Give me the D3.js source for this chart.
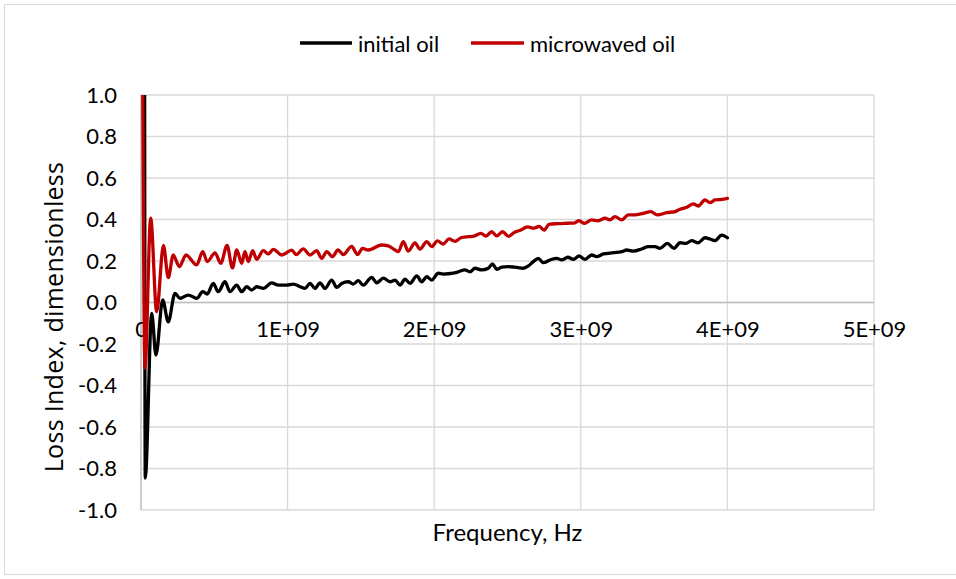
<!DOCTYPE html>
<html>
<head>
<meta charset="utf-8">
<script src="https://cdn.jsdelivr.net/npm/d3@7/dist/d3.min.js"></script>
<style>
  html, body { margin: 0; padding: 0; background: #fff; }
  svg { display: block; }
  .lbl { font-family: Lato, "Open Sans", sans-serif; fill: #000; }
</style>
</head>
<body>
<svg id="chart" width="956" height="579"></svg>
<script>
// ---- data (frequency in GHz, loss index) ----
const seriesNames = ["initial oil", "microwaved oil"];
const seriesColors = ["#000000", "#C00000"];

const initialFreq = [0.024,0.029,0.073,0.102,0.148,0.186,0.232,0.266,0.323,0.380,0.421,0.452,0.493,0.527,0.573,0.607,0.653,0.687,0.721,0.755,0.789,0.834,0.892,0.937,0.994,1.039,1.085,1.119,1.153,1.187,1.221,1.255,1.301,1.335,1.369,1.414,1.448,1.482,1.516,1.574,1.608,1.653,1.699,1.733,1.767,1.801,1.835,1.881,1.915,1.949,1.983,2.028,2.062,2.130,2.164,2.210,2.244,2.278,2.324,2.369,2.398,2.426,2.460,2.506,2.551,2.608,2.642,2.676,2.710,2.744,2.790,2.836,2.870,2.911,2.949,2.988,3.029,3.074,3.108,3.154,3.222,3.279,3.313,3.358,3.415,3.460,3.506,3.540,3.590,3.636,3.677,3.718,3.756,3.801,3.847,3.881,3.915,3.961,4.000];
const initialLoss = [1.5,-0.846,-0.052,-0.253,0.012,-0.093,0.044,0.020,0.036,0.020,0.052,0.041,0.092,0.052,0.100,0.052,0.084,0.052,0.076,0.060,0.076,0.068,0.095,0.084,0.084,0.089,0.076,0.068,0.092,0.068,0.095,0.068,0.108,0.073,0.092,0.100,0.089,0.105,0.084,0.121,0.095,0.117,0.100,0.108,0.084,0.112,0.092,0.128,0.100,0.124,0.108,0.141,0.137,0.141,0.148,0.157,0.148,0.165,0.157,0.165,0.186,0.160,0.170,0.173,0.170,0.165,0.176,0.197,0.213,0.192,0.205,0.213,0.205,0.218,0.208,0.224,0.208,0.229,0.221,0.234,0.240,0.245,0.253,0.248,0.258,0.269,0.269,0.261,0.285,0.261,0.288,0.285,0.298,0.288,0.312,0.306,0.298,0.325,0.312];

const microFreq = [0.009,0.027,0.066,0.107,0.153,0.186,0.220,0.261,0.307,0.380,0.421,0.452,0.505,0.544,0.587,0.624,0.653,0.687,0.709,0.732,0.762,0.789,0.834,0.868,0.902,0.960,1.028,1.059,1.107,1.153,1.198,1.233,1.267,1.306,1.344,1.380,1.437,1.477,1.511,1.550,1.642,1.687,1.733,1.755,1.789,1.823,1.869,1.903,1.949,1.983,2.022,2.062,2.101,2.142,2.183,2.233,2.272,2.319,2.353,2.392,2.426,2.466,2.508,2.544,2.591,2.636,2.681,2.715,2.749,2.783,2.841,2.909,2.954,2.988,3.025,3.074,3.119,3.165,3.199,3.233,3.279,3.324,3.370,3.426,3.477,3.522,3.586,3.643,3.677,3.722,3.767,3.801,3.847,3.881,3.915,3.961,4.000];
const microLoss = [1.5,-0.316,0.407,-0.044,0.275,0.120,0.229,0.173,0.229,0.181,0.245,0.197,0.239,0.189,0.275,0.166,0.253,0.189,0.245,0.197,0.250,0.208,0.250,0.234,0.256,0.229,0.252,0.231,0.258,0.229,0.250,0.213,0.245,0.221,0.253,0.231,0.270,0.231,0.261,0.253,0.277,0.273,0.253,0.245,0.293,0.248,0.287,0.257,0.293,0.269,0.297,0.282,0.307,0.295,0.312,0.317,0.320,0.333,0.320,0.341,0.321,0.341,0.319,0.337,0.349,0.364,0.358,0.367,0.349,0.376,0.380,0.382,0.383,0.394,0.381,0.398,0.394,0.406,0.398,0.414,0.398,0.422,0.422,0.430,0.438,0.422,0.433,0.438,0.449,0.459,0.475,0.465,0.494,0.481,0.494,0.497,0.502];

const xTicks = [0, 1e9, 2e9, 3e9, 4e9, 5e9];
const xTickLabels = ["0", "1E+09", "2E+09", "3E+09", "4E+09", "5E+09"];
const yTicks = [-1.0, -0.8, -0.6, -0.4, -0.2, 0.0, 0.2, 0.4, 0.6, 0.8, 1.0];
const yTickLabels = ["-1.0", "-0.8", "-0.6", "-0.4", "-0.2", "0.0", "0.2", "0.4", "0.6", "0.8", "1.0"];
const xTitle = "Frequency, Hz";
const yTitle = "Loss Index, dimensionless";

// ---- layout ----
const svg = d3.select("#chart");
const plot = { left: 141, right: 874, top: 95, bottom: 510 };
const x = d3.scaleLinear().domain([0, 5e9]).range([plot.left, plot.right]);
const y = d3.scaleLinear().domain([-1, 1]).range([plot.bottom, plot.top]);

// chart border
svg.append("rect").attr("x", 4.5).attr("y", 4.5).attr("width", 970).attr("height", 570)
  .attr("fill", "none").attr("stroke", "#D9D9D9").attr("stroke-width", 1);

// gridlines
const grid = svg.append("g").attr("stroke", "#D9D9D9").attr("stroke-width", 1.3);
yTicks.forEach(t => grid.append("line").attr("x1", plot.left).attr("x2", plot.right)
  .attr("y1", y(t)).attr("y2", y(t)));
xTicks.forEach(t => grid.append("line").attr("y1", plot.top).attr("y2", plot.bottom)
  .attr("x1", x(t)).attr("x2", x(t)));

// axes lines
svg.append("line").attr("x1", x(0)).attr("x2", x(0)).attr("y1", plot.top).attr("y2", plot.bottom)
  .attr("stroke", "#BFBFBF").attr("stroke-width", 1.3);
svg.append("line").attr("x1", plot.left).attr("x2", plot.right).attr("y1", y(0)).attr("y2", y(0))
  .attr("stroke", "#BFBFBF").attr("stroke-width", 1.3);

// tick labels
const yAxis = d3.axisLeft(y).tickValues(yTicks).tickSize(0).tickPadding(24)
  .tickFormat((d, i) => yTickLabels[i]);
const gy = svg.append("g").attr("transform", `translate(${plot.left},0)`).call(yAxis);
gy.select(".domain").remove();
gy.selectAll("text").attr("class", "lbl").style("font-size", "22px").attr("fill", "#000");

const xAxis = d3.axisBottom(x).tickValues(xTicks).tickSize(0).tickPadding(19)
  .tickFormat((d, i) => xTickLabels[i]);
const gx = svg.append("g").attr("transform", `translate(0,${y(0)})`).call(xAxis);
gx.select(".domain").remove();
gx.selectAll("text").attr("class", "lbl").style("font-size", "22px").attr("fill", "#000");

// clip
svg.append("clipPath").attr("id", "clip").append("rect")
  .attr("x", plot.left).attr("y", plot.top)
  .attr("width", plot.right - plot.left).attr("height", plot.bottom - plot.top);

const line = d3.line().x(d => x(d[0] * 1e9)).y(d => y(d[1])).curve(d3.curveMonotoneX);
const datasets = [
  d3.zip(initialFreq, initialLoss),
  d3.zip(microFreq, microLoss)
];
const lines = svg.append("g").attr("clip-path", "url(#clip)");
datasets.forEach((ds, i) => {
  lines.append("path").datum(ds).attr("d", line)
    .attr("fill", "none").attr("stroke", seriesColors[i]).attr("stroke-width", 3.3)
    .attr("stroke-linejoin", "round").attr("stroke-linecap", "round");
});

// axis titles
svg.append("text").attr("class", "lbl").attr("x", (plot.left + plot.right) / 2).attr("y", 541)
  .attr("text-anchor", "middle").style("font-size", "24px").text(xTitle);
svg.append("text").attr("class", "lbl")
  .attr("transform", `translate(63,317) rotate(-90)`)
  .attr("text-anchor", "middle").style("font-size", "25px")
  .style("letter-spacing", "0.3px")
  .style("font-family", "'Open Sans', sans-serif").text(yTitle);

// legend
const legend = [{ x1: 300, x2: 352, tx: 358 }, { x1: 471, x2: 524, tx: 530 }];
legend.forEach((l, i) => {
  svg.append("line").attr("x1", l.x1).attr("x2", l.x2).attr("y1", 43).attr("y2", 43)
    .attr("stroke", seriesColors[i]).attr("stroke-width", 3.3);
  svg.append("text").attr("class", "lbl").attr("x", l.tx).attr("y", 43)
    .attr("dominant-baseline", "central").style("font-size", "22px").text(seriesNames[i]);
});
</script>
</body>
</html>
